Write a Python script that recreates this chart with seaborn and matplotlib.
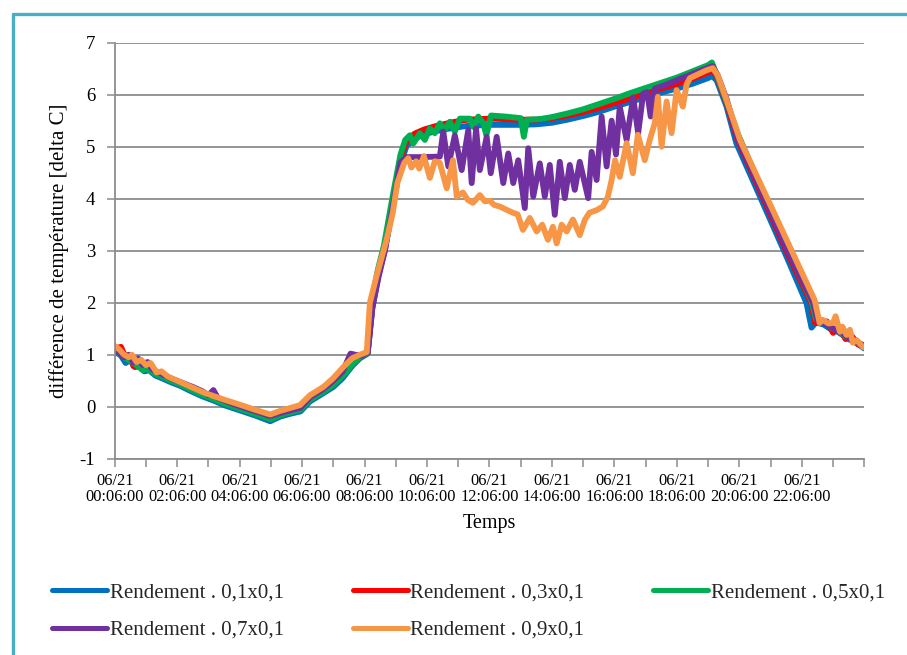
import numpy as np
import pandas as pd
import matplotlib
matplotlib.use("Agg")
import matplotlib.pyplot as plt
import seaborn as sns
from matplotlib.lines import Line2D

# ---------------- data (hours after 06/21 00:06:00, delta C) ----------------
hours_01 = [0.0, 0.2, 0.35, 0.5, 0.65, 0.8, 0.95, 1.1, 1.3, 1.5, 1.8, 2.1, 2.4, 2.8, 3.2, 3.5,
            4.0, 4.5, 4.98, 5.3, 5.6, 5.95, 6.25, 6.68, 7.0, 7.3, 7.6, 7.85, 8.1, 8.25, 8.45,
            8.65, 8.92, 9.19, 9.35, 9.6, 9.9, 10.3, 10.8, 11.3, 12.0, 13.0, 13.5, 14.0, 14.5,
            15.0, 15.5, 16.0, 16.5, 17.0, 17.5, 18.0, 18.5, 19.0, 19.12, 19.27, 19.59, 19.9,
            20.66, 21.5, 22.15, 22.31, 22.45, 22.7, 22.9, 23.1, 23.3, 23.5, 23.7, 23.9, 24.0]
delta_01 = [1.07, 0.98, 0.84, 0.90, 0.76, 0.78, 0.68, 0.70, 0.60, 0.55, 0.47, 0.40, 0.31, 0.20,
            0.11, 0.03, -0.07, -0.17, -0.28, -0.19, -0.14, -0.09, 0.10, 0.26, 0.38, 0.55, 0.78,
            0.93, 1.02, 1.90, 2.55, 3.00, 3.95, 4.75, 5.02, 5.15, 5.24, 5.30, 5.36, 5.40, 5.42,
            5.42, 5.43, 5.46, 5.52, 5.59, 5.67, 5.77, 5.86, 5.95, 6.04, 6.12, 6.21, 6.32, 6.36,
            6.28, 5.77, 5.07, 4.04, 2.90, 1.99, 1.52, 1.62, 1.58, 1.50, 1.46, 1.38, 1.30, 1.24,
            1.16, 1.12]

hours_03 = [0.0, 0.2, 0.35, 0.5, 0.6, 0.8, 0.95, 1.1, 1.3, 1.5, 1.8, 2.1, 2.4, 2.8, 3.2, 3.5,
            4.0, 4.5, 4.98, 5.3, 5.6, 5.95, 6.25, 6.68, 7.0, 7.3, 7.6, 7.85, 8.1, 8.25, 8.45,
            8.65, 8.92, 9.19, 9.35, 9.6, 9.9, 10.3, 10.8, 11.3, 12.0, 13.0, 13.5, 14.0, 14.5,
            15.0, 15.5, 16.0, 16.5, 17.0, 17.5, 18.0, 18.5, 19.0, 19.14, 19.3, 19.6, 19.95,
            20.7, 21.5, 22.3, 22.42, 22.6, 22.8, 23.0, 23.2, 23.4, 23.6, 23.8, 24.0]
delta_03 = [1.12, 1.15, 0.95, 0.92, 0.78, 0.82, 0.72, 0.76, 0.65, 0.60, 0.52, 0.45, 0.36, 0.25,
            0.16, 0.08, -0.02, -0.12, -0.23, -0.15, -0.10, -0.05, 0.14, 0.30, 0.43, 0.60, 0.82,
            0.96, 1.04, 1.95, 2.58, 3.05, 4.00, 4.85, 5.12, 5.25, 5.33, 5.40, 5.47, 5.52, 5.54,
            5.52, 5.52, 5.55, 5.60, 5.67, 5.75, 5.84, 5.93, 6.03, 6.12, 6.21, 6.31, 6.43, 6.48,
            6.32, 5.82, 5.12, 4.10, 3.00, 2.00, 1.62, 1.62, 1.64, 1.42, 1.52, 1.30, 1.36, 1.20,
            1.18]

hours_05 = [0.0, 0.3, 0.5, 0.7, 0.9, 1.0, 1.3, 1.5, 1.8, 2.1, 2.4, 2.8, 3.2, 3.5, 4.0, 4.5,
            4.98, 5.3, 5.6, 5.95, 6.25, 6.68, 7.0, 7.3, 7.6, 7.85, 8.1, 8.22, 8.42, 8.62, 8.9,
            9.15, 9.3, 9.45, 9.56, 9.77, 9.93, 10.09, 10.25, 10.41, 10.57, 10.73, 10.89, 11.05,
            11.37, 11.48, 11.64, 11.8, 11.9, 12.05, 12.5, 13.0, 13.1, 13.2, 13.6, 14.0, 14.5,
            15.0, 15.5, 16.0, 16.5, 17.0, 17.5, 18.0, 18.5, 19.0, 19.12, 19.3, 19.6, 19.95,
            20.7, 21.5, 22.3, 22.45, 22.6, 22.8, 23.0, 23.2, 23.4, 23.6, 23.8, 24.0]
delta_05 = [1.10, 0.95, 0.88, 0.80, 0.70, 0.74, 0.63, 0.58, 0.50, 0.43, 0.34, 0.23, 0.14, 0.06,
            -0.04, -0.14, -0.24, -0.16, -0.11, -0.06, 0.13, 0.29, 0.42, 0.59, 0.81, 0.95, 1.04,
            2.00, 2.62, 3.10, 4.05, 4.85, 5.13, 5.22, 5.06, 5.26, 5.13, 5.35, 5.26, 5.45, 5.32,
            5.48, 5.29, 5.54, 5.54, 5.38, 5.58, 5.45, 5.22, 5.60, 5.58, 5.55, 5.19, 5.52, 5.53,
            5.57, 5.64, 5.72, 5.82, 5.92, 6.03, 6.13, 6.23, 6.33, 6.45, 6.57, 6.62, 6.35, 5.85,
            5.25, 4.20, 3.08, 2.05, 1.68, 1.65, 1.60, 1.50, 1.45, 1.35, 1.30, 1.22, 1.18]

hours_07 = [0.0, 0.2, 0.3, 0.45, 0.6, 0.75, 0.9, 1.05, 1.2, 1.4, 1.6, 1.9, 2.2, 2.5, 2.8, 3.0,
            3.16, 3.3, 3.8, 4.3, 4.98, 5.3, 5.95, 6.25, 6.68, 7.0, 7.3, 7.55, 7.7, 7.9, 8.1,
            8.25, 8.45, 8.65, 8.92, 9.15, 9.35, 9.8, 10.41, 10.52, 10.68, 10.89, 11.11, 11.32,
            11.43, 11.57, 11.69, 11.91, 12.04, 12.23, 12.44, 12.60, 12.76, 12.92, 13.13, 13.24,
            13.40, 13.61, 13.77, 13.93, 14.09, 14.25, 14.41, 14.57, 14.73, 14.89, 15.16, 15.27,
            15.43, 15.59, 15.75, 15.91, 16.05, 16.17, 16.39, 16.60, 16.76, 16.92, 17.05, 17.16,
            17.3, 17.6, 18.0, 18.5, 19.0, 19.14, 19.3, 19.6, 19.95, 20.7, 21.5, 22.35, 22.5,
            22.7, 22.9, 23.1, 23.3, 23.5, 23.7, 23.9, 24.0]
delta_07 = [1.12, 1.00, 0.95, 1.00, 0.85, 0.93, 0.80, 0.86, 0.72, 0.66, 0.60, 0.52, 0.45, 0.38,
            0.30, 0.22, 0.32, 0.17, 0.05, -0.05, -0.18, -0.12, -0.02, 0.18, 0.34, 0.50, 0.68,
            1.02, 1.00, 0.98, 1.05, 1.90, 2.50, 3.00, 3.90, 4.70, 4.80, 4.80, 4.81, 5.29, 4.62,
            5.22, 4.55, 5.32, 4.30, 5.35, 4.55, 5.19, 4.49, 5.19, 4.30, 4.87, 4.30, 4.74, 3.82,
            4.97, 4.04, 4.68, 4.04, 4.65, 3.69, 4.71, 4.01, 4.65, 4.17, 4.71, 4.01, 4.90, 4.36,
            5.58, 4.62, 5.50, 4.85, 5.77, 5.13, 5.95, 5.26, 6.02, 6.05, 5.58, 6.12, 6.18, 6.28,
            6.40, 6.52, 6.55, 6.38, 5.90, 5.15, 4.15, 3.05, 2.02, 1.65, 1.62, 1.55, 1.47, 1.42,
            1.32, 1.27, 1.20, 1.17]

hours_09 = [0.0, 0.15, 0.3, 0.45, 0.55, 0.7, 0.85, 1.0, 1.15, 1.34, 1.5, 1.7, 2.0, 2.41, 2.9,
            3.48, 4.0, 4.5, 4.98, 5.3, 5.93, 6.25, 6.68, 7.0, 7.3, 7.6, 7.85, 8.07, 8.17, 8.4,
            8.7, 8.9, 9.05, 9.27, 9.4, 9.5, 9.65, 9.75, 9.9, 10.09, 10.25, 10.41, 10.63, 10.83,
            10.95, 11.15, 11.3, 11.47, 11.69, 11.85, 12.01, 12.15, 12.33, 12.5, 12.75, 12.9,
            13.07, 13.29, 13.51, 13.69, 13.87, 14.03, 14.15, 14.31, 14.47, 14.67, 14.89, 15.05,
            15.2, 15.43, 15.63, 15.79, 15.91, 16.02, 16.17, 16.39, 16.59, 16.75, 16.97, 17.13,
            17.29, 17.39, 17.51, 17.67, 17.83, 17.99, 18.19, 18.31, 18.42, 18.95, 19.15, 19.3,
            19.6, 20.02, 21.0, 22.0, 22.41, 22.57, 22.67, 22.85, 23.0, 23.08, 23.22, 23.3,
            23.43, 23.54, 23.63, 23.76, 23.95, 24.0]
delta_09 = [1.17, 1.10, 1.00, 0.95, 1.00, 0.86, 0.90, 0.80, 0.84, 0.66, 0.68, 0.58, 0.50, 0.39,
            0.26, 0.14, 0.04, -0.06, -0.15, -0.08, 0.03, 0.22, 0.38, 0.55, 0.75, 0.93, 1.00,
            1.05, 2.00, 2.55, 3.20, 3.72, 4.30, 4.69, 4.78, 4.60, 4.72, 4.58, 4.82, 4.40, 4.72,
            4.69, 4.20, 4.74, 4.04, 4.12, 3.98, 3.92, 4.07, 3.95, 3.96, 3.88, 3.85, 3.80, 3.73,
            3.70, 3.40, 3.63, 3.37, 3.50, 3.21, 3.46, 3.14, 3.50, 3.37, 3.60, 3.30, 3.59, 3.73,
            3.78, 3.85, 4.04, 4.36, 4.74, 4.42, 5.07, 4.49, 5.23, 4.74, 5.13, 5.45, 5.96, 5.00,
            5.87, 5.26, 6.09, 5.77, 6.20, 6.32, 6.47, 6.51, 6.38, 5.88, 5.13, 3.87, 2.58, 2.05,
            1.61, 1.67, 1.60, 1.61, 1.74, 1.44, 1.54, 1.38, 1.48, 1.23, 1.28, 1.15, 1.14]

series_names = ["Rendement . 0,1x0,1", "Rendement . 0,3x0,1", "Rendement . 0,5x0,1",
                "Rendement . 0,7x0,1", "Rendement . 0,9x0,1"]
series_colors = ["#0070C0", "#FF0000", "#00B050", "#7030A0", "#F79646"]

tick_hours = list(range(0, 23, 2))
tick_labels = ["06/21\n00:06:00", "06/21\n02:06:00", "06/21\n04:06:00", "06/21\n06:06:00",
               "06/21\n08:06:00", "06/21\n10:06:00", "06/21\n12:06:00", "06/21\n14:06:00",
               "06/21\n16:06:00", "06/21\n18:06:00", "06/21\n20:06:00", "06/21\n22:06:00"]
y_ticks = [-1, 0, 1, 2, 3, 4, 5, 6, 7]

# ---------------- plotting ----------------
sns.set_theme(style="white")
plt.rcParams['font.family'] = ['Liberation Serif', 'DejaVu Serif']

W, H = 907, 655
fig = plt.figure(figsize=(W / 100, H / 100), dpi=100)
fig.patch.set_facecolor("white")
ax = fig.add_axes([114.7 / W, 1 - 458.7 / H, (864.3 - 114.7) / W, (458.7 - 42.7) / H])

frames = []
for name, h, d in zip(series_names,
                      [hours_01, hours_03, hours_05, hours_07, hours_09],
                      [delta_01, delta_03, delta_05, delta_07, delta_09]):
    frames.append(pd.DataFrame({"Temps": h, "delta": d, "serie": name}))
df = pd.concat(frames, ignore_index=True)

sns.lineplot(data=df, x="Temps", y="delta", hue="serie", hue_order=series_names,
             palette=series_colors, estimator=None, sort=False, linewidth=4.2,
             ax=ax, legend=False)
for ln in ax.lines:
    ln.set_solid_joinstyle("round")
    ln.set_solid_capstyle("round")

grey = "#8C8C8C"
ax.set_xlim(0, 24)
ax.set_ylim(-1, 7)
all_hours = list(range(0, 25))
ax.set_xticks(all_hours)
lab_map = dict(zip(tick_hours, tick_labels))
ax.set_xticklabels([lab_map.get(h, "") for h in all_hours], fontsize=11.8, linespacing=1.05)
ax.set_yticks(y_ticks)
ax.set_yticklabels([str(v) for v in y_ticks], fontsize=13.5)
ax.tick_params(axis="x", bottom=True, length=6, width=1.1, color=grey, direction="out", pad=4,
               labelcolor="black")
ax.tick_params(axis="y", left=True, length=6, width=1.1, color=grey, direction="out", pad=8,
               labelcolor="black")
ax.yaxis.grid(True, color=grey, linewidth=1.3)
ax.xaxis.grid(False)
ax.set_axisbelow(True)
for s in ["top", "right"]:
    ax.spines[s].set_visible(False)
for s in ["left", "bottom"]:
    ax.spines[s].set_color(grey)
    ax.spines[s].set_linewidth(1.3)

ax.set_xlabel("Temps", fontsize=14.5, labelpad=6, color="black")
ax.set_ylabel("différence de température [delta C]", fontsize=15, labelpad=8, color="black")

handles = [Line2D([0], [0], color=c, lw=3.6, solid_capstyle="round") for c in series_colors]
order = [0, 3, 1, 4, 2]
fig.legend([handles[i] for i in order], [series_names[i] for i in order],
           loc="upper left", bbox_to_anchor=(52 / W, 1 - 583 / H), ncol=3, frameon=False,
           fontsize=15, handlelength=2.65, handletextpad=0.12, columnspacing=3.3,
           labelspacing=0.85, borderpad=0, borderaxespad=0)

# outer border of the chart area
bc = "#4BACC6"
fig.add_artist(Line2D([12.7 / W, 1.01], [1 - 13.5 / H, 1 - 13.5 / H], transform=fig.transFigure,
                      color=bc, lw=2.4, solid_capstyle="round"))
fig.add_artist(Line2D([12.7 / W, 12.7 / W], [-0.01, 1 - 13.5 / H], transform=fig.transFigure,
                      color=bc, lw=2.4, solid_capstyle="round"))

fig.savefig("out.png", dpi=100)
